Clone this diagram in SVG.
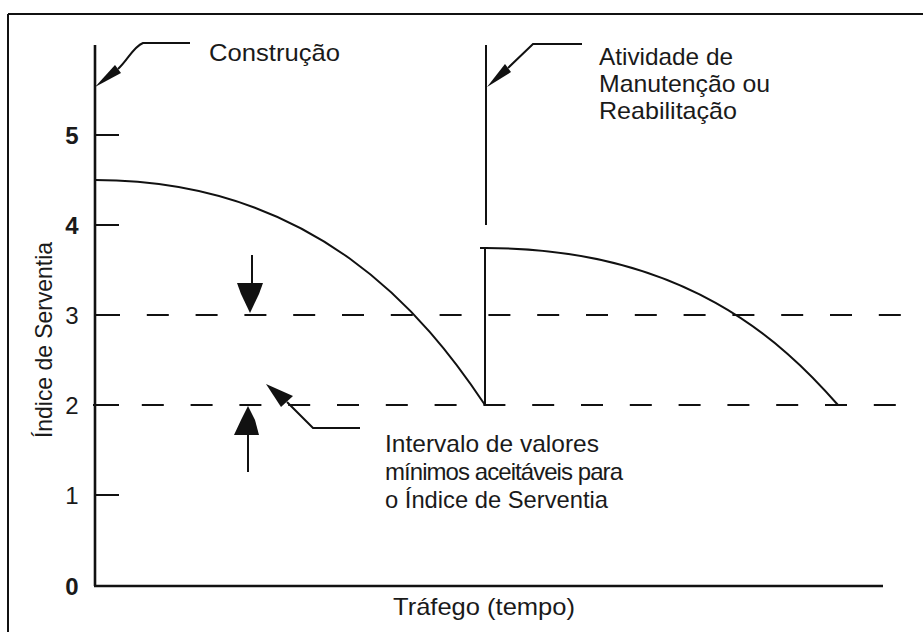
<svg xmlns="http://www.w3.org/2000/svg" width="923" height="632" viewBox="0 0 923 632">
<style>
.t{font-family:"Liberation Sans",Arial,sans-serif;font-size:24px;fill:#1a1a1a}
.d{font-family:"Liberation Sans",Arial,sans-serif;font-size:24px;fill:#1a1a1a;text-anchor:middle}
.ax{stroke:#111;stroke-width:2.6;fill:none}
.ln{stroke:#111;stroke-width:2;fill:none}
.dash{stroke:#111;stroke-width:2;fill:none;stroke-dasharray:22 26.8}
.ah{fill:#111;stroke:none}
</style>
<rect x="0" y="0" width="923" height="632" fill="#fff"/>
<g id="frame">
<line x1="8" y1="14" x2="923" y2="14" class="ln"/>
<line x1="8" y1="14" x2="8" y2="632" class="ln"/>
</g>
<g id="axes">
<line x1="95" y1="45" x2="95" y2="586" class="ax"/>
<line x1="94" y1="586" x2="883" y2="586" class="ax"/>
<line x1="95" y1="135" x2="119" y2="135" class="ln"/>
<line x1="95" y1="225" x2="119" y2="225" class="ln"/>
<line x1="95" y1="315" x2="119" y2="315" class="ln"/>
<line x1="95" y1="405" x2="119" y2="405" class="ln"/>
<line x1="95" y1="495" x2="119" y2="495" class="ln"/>
<text x="72" y="144" class="d" font-weight="bold">5</text>
<text x="72" y="234" class="d" font-weight="bold">4</text>
<text x="72" y="324" class="d">3</text>
<text x="72" y="414" class="d">2</text>
<text x="72" y="504" class="d">1</text>
<text x="72" y="595" class="d" font-weight="bold">0</text>
<text class="t" transform="translate(52,438) rotate(-90)" textLength="196" lengthAdjust="spacingAndGlyphs">Índice de Serventia</text>
<text x="393" y="615" class="t" textLength="182" lengthAdjust="spacingAndGlyphs">Tráfego (tempo)</text>
</g>
<g id="limits">
<line x1="98" y1="315" x2="904" y2="315" class="dash"/>
<line x1="93" y1="405" x2="900" y2="405" class="dash"/>
</g>
<g id="curves">
<path d="M95,180 C315,180 425,315 485,405" class="ln"/>
<line x1="485" y1="405" x2="485" y2="248" class="ln"/>
<path d="M480,248 L486,248 C684,248 783,342 838,405" class="ln"/>
</g>
<g id="construcao">
<path d="M190,43 L143,43 C133,47 128,60 118,69" class="ln"/>
<polygon points="95,87 115,65 121,73" class="ah"/>
<text x="209" y="61" class="t" textLength="131" lengthAdjust="spacingAndGlyphs">Construção</text>
</g>
<g id="manutencao">
<line x1="486" y1="45" x2="486" y2="225" class="ln"/>
<path d="M582,44 L533,44 L508,68" class="ln"/>
<polygon points="487,87 505,64 511,72" class="ah"/>
<text x="599" y="65" class="t" textLength="134" lengthAdjust="spacingAndGlyphs">Atividade de</text>
<text x="599" y="92" class="t" textLength="171" lengthAdjust="spacingAndGlyphs">Manutenção ou</text>
<text x="599" y="119" class="t" textLength="138" lengthAdjust="spacingAndGlyphs">Reabilitação</text>
</g>
<g id="intervalo">
<line x1="252" y1="255" x2="252" y2="286" class="ln" stroke-width="2.4"/>
<path d="M237,283 L263,283 L259,294 L250,313 L241,294 Z" class="ah"/>
<line x1="248" y1="432" x2="248" y2="472" class="ln" stroke-width="2.6"/>
<path d="M248,406 L255,420 L259,435 L234,435 L241,420 Z" class="ah"/>
<path d="M360,428 L313,428 L287,402" class="ln"/>
<polygon points="266,384 293,396 281,407" class="ah"/>
<text x="385" y="452" class="t" textLength="214" lengthAdjust="spacingAndGlyphs">Intervalo de valores</text>
<text x="385" y="480" class="t" textLength="238" lengthAdjust="spacing">mínimos aceitáveis para</text>
<text x="385" y="508" class="t" textLength="223" lengthAdjust="spacingAndGlyphs">o Índice de Serventia</text>
</g>
</svg>
